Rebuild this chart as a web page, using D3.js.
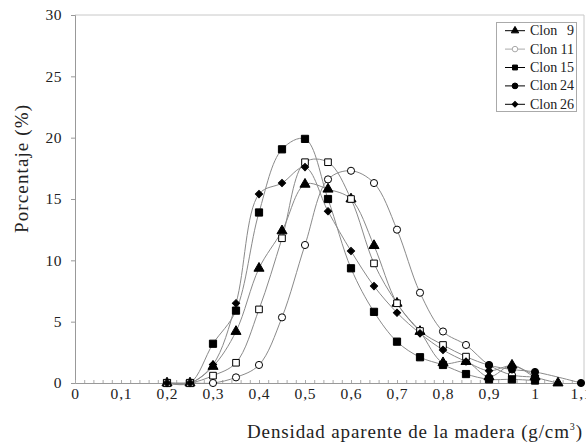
<!DOCTYPE html>
<html>
<head>
<meta charset="utf-8">
<script src="https://cdn.jsdelivr.net/npm/d3@7"></script>
<style>
body { margin: 0; background: #fff; }
text { font-family: "Liberation Serif", "Times New Roman", serif; }
</style>
</head>
<body>
<svg width="586" height="444"></svg>
<script>
// densidad aparente (g/cm3), centro de clase
var densidad = [0.2, 0.25, 0.3, 0.35, 0.4, 0.45, 0.5, 0.55, 0.6, 0.65, 0.7, 0.75, 0.8, 0.85, 0.9, 0.95, 1.0, 1.05, 1.1];

// porcentaje por clon
var clon9  = [0, 0, 1.35, 4.2, 9.35, 12.4, 16.2, 15.8, 15.0, 11.2, 6.5, 4.2, 1.65, 1.75, 0.5, 1.45, 0.5, 0, null];
var clon11 = [0, 0, 0, 0.46, 1.47, 5.35, 11.25, 16.6, 17.3, 16.3, 12.5, 7.36, 4.2, 3.1, 1.47, 0.65, 0.5, null, null];
var clon15 = [0, 0, 3.2, 5.9, 13.9, 19.05, 19.9, 15.0, 9.35, 5.8, 3.37, 2.1, 1.47, 0.73, 0.3, 0.3, 0.2, null, null];
var clon24 = [0, 0, 0.6, 1.65, 6.0, 11.8, 18.0, 18.0, 15.0, 9.75, 6.5, 4.24, 3.1, 2.15, 1.45, 1.1, 0.9, null, 0];
var clon26 = [0, 0, 1.5, 6.5, 15.4, 16.3, 17.6, 14.0, 10.76, 7.9, 5.73, 4.05, 2.7, 1.75, 1.0, 1.4, 0.6, null, null];

var yTicks = [0, 5, 10, 15, 20, 25, 30];
var xTicks = [0, 0.1, 0.2, 0.3, 0.4, 0.5, 0.6, 0.7, 0.8, 0.9, 1.0, 1.1];

var series = [
    {name: 'Clon  9', values: clon9, symbol: d3.symbolTriangle, fill: '#000', size: 44},
    {name: 'Clon 11', values: clon11, symbol: d3.symbolCircle, fill: '#fff', size: 40},
    {name: 'Clon 15', values: clon15, symbol: d3.symbolSquare, fill: '#000', size: 52},
    {name: 'Clon 24', values: clon24, symbol: d3.symbolSquare, fill: '#fff', size: 44,
        legendSymbol: d3.symbolCircle, legendFill: '#000', tailFrom: 0.9},
    {name: 'Clon 26', values: clon26, symbol: d3.symbolSquare, fill: '#000', size: 26, rotate: 45}
];

var svg = d3.select('svg'),
    plotL = 75, plotR = 584, plotT = 15, plotB = 383,
    serif = '"Liberation Serif", "Times New Roman", serif';

var x = d3.scaleLinear().domain([0, 1.1]).range([plotL, 581]),
    y = d3.scaleLinear().domain([0, 30]).range([plotB, plotT]);

// marco
svg.append('path')
    .attr('d', 'M' + plotL + ',' + plotT + 'H' + plotR + 'V' + plotB)
    .attr('fill', 'none')
    .attr('stroke', '#c8c8c8');

// eje y
var yAxis = svg.append('g')
    .attr('transform', 'translate(' + plotL + ',0)')
    .call(d3.axisLeft(y).tickValues(yTicks).tickSize(4).tickPadding(9));
yAxis.attr('font-family', serif);
yAxis.select('.domain').attr('stroke', '#999');
yAxis.selectAll('.tick line').attr('stroke', '#999');
yAxis.selectAll('text').style('font-size', '15.5px').style('font-family', serif)
    .attr('fill', '#222').style('letter-spacing', '0.5px');

// eje x
var fmt = function(d) { return d3.format('.1~f')(d).replace('.', ','); };
var xAxis = svg.append('g')
    .attr('transform', 'translate(0,' + plotB + ')')
    .call(d3.axisBottom(x).tickValues(xTicks).tickSize(0).tickPadding(5).tickFormat(fmt));
xAxis.attr('font-family', serif);
xAxis.select('.domain').attr('stroke', '#999');
xAxis.selectAll('text').style('font-size', '15.5px').style('font-family', serif)
    .attr('fill', '#222').style('letter-spacing', '0.8px');

var minor = svg.append('g')
    .attr('transform', 'translate(0,' + plotB + ')')
    .call(d3.axisBottom(x).tickValues(d3.range(0, 56).map(function(i) { return i * 0.02; })).tickSize(-3).tickFormat(''));
minor.select('.domain').remove();
minor.selectAll('.tick line').attr('stroke', '#aaa');

// curvas
var line = d3.line()
    .x(function(d) { return x(d[0]); })
    .y(function(d) { return y(d[1]); })
    .curve(d3.curveCatmullRom.alpha(0.5));

function points(s) {
    return densidad.map(function(d, i) { return [d, s.values[i]]; })
        .filter(function(p) { return p[1] != null; });
}

series.forEach(function(s) {
    svg.append('path')
        .datum(points(s))
        .attr('d', line)
        .attr('fill', 'none')
        .attr('stroke', '#8a8a8a')
        .attr('stroke-width', 1);
});

series.forEach(function(s) {
    svg.append('g').selectAll('path')
        .data(points(s))
        .enter().append('path')
        .each(function(p) {
            var tail = s.tailFrom != null && p[0] >= s.tailFrom - 1e-9,
                sym = tail ? s.legendSymbol : s.symbol,
                size = tail ? 40 : s.size;
            d3.select(this)
                .attr('transform', 'translate(' + x(p[0]) + ',' + y(p[1]) + ')' + (s.rotate ? ' rotate(' + s.rotate + ')' : ''))
                .attr('d', d3.symbol().type(sym).size(size))
                .attr('fill', tail ? s.legendFill : s.fill);
        })
        .attr('stroke', '#000')
        .attr('stroke-width', 1);
});

// leyenda
var legend = svg.append('g');
legend.append('rect')
    .attr('x', 496.5).attr('y', 22.5).attr('width', 80).attr('height', 89)
    .attr('fill', '#fff').attr('stroke', '#aaa');
series.forEach(function(s, i) {
    var ly = 30.7 + i * 18.4,
        grey = s.fill === '#fff' && !s.legendFill;
    legend.append('line')
        .attr('x1', 505).attr('x2', 525).attr('y1', ly).attr('y2', ly)
        .attr('stroke', grey ? '#aaa' : '#000');
    legend.append('path')
        .attr('transform', 'translate(515,' + ly + ')' + (s.rotate && !s.legendSymbol ? ' rotate(' + s.rotate + ')' : ''))
        .attr('d', d3.symbol().type(s.legendSymbol || s.symbol).size(s.legendSymbol ? 26 : (s.rotate ? 16 : 24)))
        .attr('fill', s.legendFill || s.fill)
        .attr('stroke', grey ? '#aaa' : '#000');
    var parts = s.name.split(/\s+/);
    legend.append('text')
        .attr('x', 530).attr('y', ly + 4.5)
        .style('font-size', '14px').attr('fill', '#222')
        .text(parts[0]);
    legend.append('text')
        .attr('x', 574).attr('y', ly + 4.5)
        .attr('text-anchor', 'end')
        .style('font-size', '14px').attr('fill', '#222')
        .text(parts[1]);
});

// titulos de ejes
svg.append('text')
    .attr('transform', 'translate(28,169) rotate(-90)')
    .attr('text-anchor', 'middle')
    .attr('textLength', 128).attr('lengthAdjust', 'spacing')
    .style('font-size', '19px').attr('fill', '#222')
    .text('Porcentaje (%)');

var xt = svg.append('text')
    .attr('x', 247).attr('y', 438)
    .attr('textLength', 335).attr('lengthAdjust', 'spacing')
    .style('font-size', '19px').attr('fill', '#222');
xt.append('tspan').text('Densidad aparente de la madera (g/cm');
xt.append('tspan').style('font-size', '10px').attr('dy', -8).text('3');
xt.append('tspan').attr('dy', 8).text(')');
</script>
</body>
</html>
